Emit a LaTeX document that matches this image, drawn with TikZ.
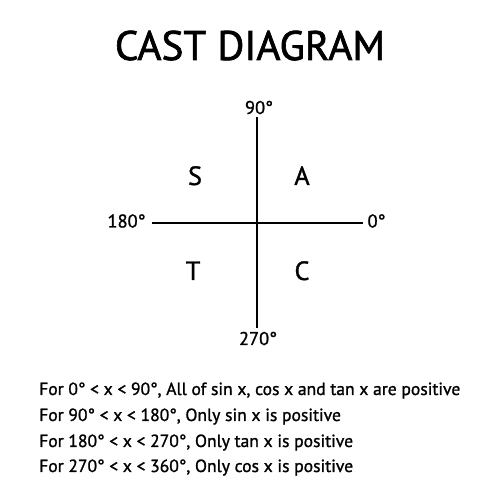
\documentclass[tikz,border=0pt]{standalone}
\usepackage{fontspec}
\newfontfamily\dinfont[FakeBold=1.2]{PT Sans}
\newfontfamily\dintitle[FakeBold=1.6]{PT Sans}
\usepackage{tikz}
\usetikzlibrary{positioning}

\tikzset{
	axis/.style={line width=1.1pt},
	quad/.style={anchor=base, font=\dinfont\fontsize{15}{18}\selectfont},
	deg/.style={anchor=base, font=\dinfont\fontsize{10.5}{12}\selectfont},
	rule/.style={anchor=base west, font=\dinfont\fontsize{10}{12}\selectfont}
}

\begin{document}
\begin{tikzpicture}
	\useasboundingbox (0, 0) rectangle (10, 10);

	\node[anchor=base, font=\dintitle\fontsize{23.5}{28}\selectfont] (title) at (5, 8.8) {CAST DIAGRAM};

	\coordinate (top)    at (5.14, 7.66);
	\coordinate (bottom) at (5.14, 3.44);
	\coordinate (left)   at (3.04, 5.546);
	\coordinate (right)  at (7.26, 5.546);

	\draw[axis] (left) -- (right);
	\draw[axis] (top) -- (bottom);

	\node[deg] (d90)  at (5.18, 7.72) {90°};
	\node[deg] (d270) at (5.16, 3.1)  {270°};
	\node[deg] (d180) at (2.53, 5.45) {180°};
	\node[deg] (d0)   at (7.53, 5.45)  {0°};

	\node[quad] (s) at (3.9, 6.3) {S};
	\node[quad] (a) at (6.04, 6.3) {A};
	\node[quad] (t) at (3.86, 4.4) {T};
	\node[quad] (c) at (6.04, 4.4) {C};

	\node[rule] (r1) at (0.66, 2.1)  {For 0° < x < 90°, All of sin x, cos x and tan x are positive};
	\node[rule] (r2) at (0.66, 1.58) {For 90° < x < 180°, Only sin x is positive};
	\node[rule] (r3) at (0.66, 1.06) {For 180° < x < 270°, Only tan x is positive};
	\node[rule] (r4) at (0.66, 0.56) {For 270° < x < 360°, Only cos x is positive};
\end{tikzpicture}
\end{document}
